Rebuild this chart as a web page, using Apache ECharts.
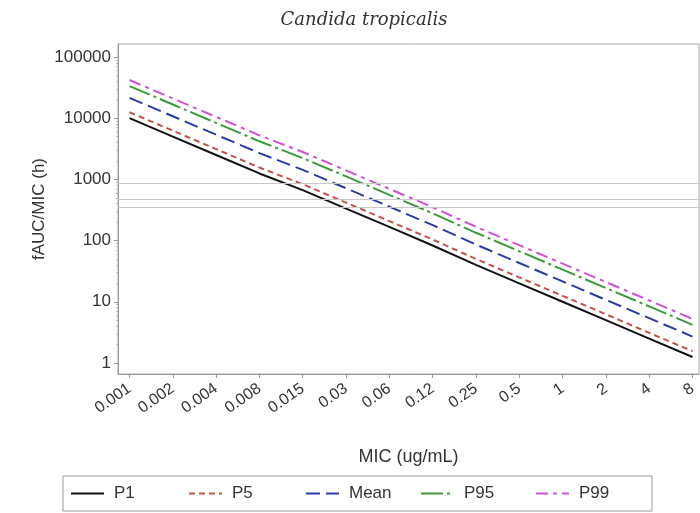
<!DOCTYPE html>
<html>
<head>
<meta charset="utf-8">
<script src="https://cdn.jsdelivr.net/npm/echarts@6/dist/echarts.min.js"></script>
<style>html,body{margin:0;padding:0;background:#fff}#c{width:700px;height:513px}</style>
</head>
<body>
<div id="c"></div>
<script>
var micLabels = ['0.001','0.002','0.004','0.008','0.015','0.03','0.06','0.12','0.25','0.5','1','2','4','8'];
var p1   = [10000, 5000, 2500, 1250, 667, 333, 167, 83, 40, 20, 10, 5, 2.5, 1.25];
var p5   = [12500, 6250, 3125, 1560, 833, 417, 208, 104, 50, 25, 12.5, 6.25, 3.1, 1.56];
var mean = [21500, 10750, 5375, 2690, 1430, 717, 358, 179, 86, 43, 21.5, 10.75, 5.4, 2.7];
var p95  = [33500, 16750, 8375, 4190, 2230, 1117, 558, 279, 134, 67, 33.5, 16.75, 8.4, 4.2];
var p99  = [42000, 21000, 10500, 5250, 2800, 1400, 700, 350, 168, 84, 42, 21, 10.5, 5.25];
var refLines = [880, 465, 350];
var yTicks = [1, 10, 100, 1000, 10000, 100000];
var seriesNames = ['P1', 'P5', 'Mean', 'P95', 'P99'];

function pts(arr){ return arr.map(function(v,i){ return [i, v]; }); }
var idx = micLabels.map(function(_, i){ return i; });
var yMinorTicks = [];
yTicks.forEach(function(t){ for (var k = 2; k <= 9; k++) { if (t * k < 163000) yMinorTicks.push(t * k); } });

var chart = echarts.init(document.getElementById('c'), null, {renderer:'canvas'});
var font = 'Liberation Sans';
function mk(name, data, color, type, extra){
  var s = {
    name: name, type: 'line', data: pts(data), symbol: 'none', silent: true,
    lineStyle: {color: color, width: 2, type: type},
    itemStyle: {color: color}, z: 3
  };
  if (extra) s.markLine = extra;
  return s;
}
var legendLefts = [70, 188, 305, 420, 535];
var legends = seriesNames.map(function(n, i){
  return {
    left: legendLefts[i], top: 485, padding: 0, itemWidth: 33, itemHeight: 10,
    itemStyle: {opacity: 0}, selectedMode: false,
    textStyle: {fontFamily: font, fontSize: 17, color: '#333', padding: [0, 0, 0, 5]},
    data: [n]
  };
});
var option = {
  animation: false,
  title: {
    text: 'Candida tropicalis', left: 359, top: 6, textAlign: 'center',
    textStyle: {fontFamily: 'DejaVu Serif', fontStyle: 'italic', fontWeight: 'normal', fontSize: 18, color: '#333'}
  },
  grid: {left: 118, top: 44, right: 1, bottom: 139, show: true, borderColor: '#aaa', borderWidth: 1},
  xAxis: {
    type: 'value', min: -0.266, max: 13.15,
    name: 'MIC (ug/mL)', nameLocation: 'middle', nameGap: 74,
    nameTextStyle: {fontFamily: font, fontSize: 18, color: '#333'},
    axisLine: {show: true, onZero: false, lineStyle: {color: '#999'}},
    axisTick: {show: true, length: 4, customValues: idx, lineStyle: {color: '#999'}},
    splitLine: {show: false},
    axisLabel: {customValues: idx, rotate: 35, fontFamily: font, fontSize: 16, color: '#333', margin: 13,
      formatter: function(v){ return micLabels[Math.round(v)]; }}
  },
  yAxis: [{
    type: 'log', min: 0.66, max: 163000, logBase: 10,
    name: 'fAUC/MIC (h)', nameLocation: 'middle', nameGap: 70, nameMoveOverlap: false,
    nameTextStyle: {fontFamily: font, fontSize: 17, color: '#333'},
    axisLine: {show: true, onZero: false, lineStyle: {color: '#999'}},
    axisTick: {show: true, length: 4, customValues: yTicks, lineStyle: {color: '#999'}},
    minorTick: {show: false},
    splitLine: {show: false},
    axisLabel: {customValues: yTicks, fontFamily: font, fontSize: 17, color: '#333', margin: 7,
      formatter: function(v){ return String(Math.round(v)); }}
  }, {
    type: 'log', min: 0.66, max: 163000, logBase: 10, position: 'left',
    axisLine: {show: false, onZero: false},
    axisTick: {show: true, length: 2, customValues: yMinorTicks, lineStyle: {color: '#bbb'}},
    axisLabel: {show: false}, splitLine: {show: false}
  }],
  legend: legends,
  graphic: [{type: 'rect', shape: {x: 63, y: 476, width: 589, height: 35}, style: {fill: 'none', stroke: '#999', lineWidth: 1}, silent: true}],
  series: [
    mk('P1', p1, '#111111', 'solid', {
      silent: true, symbol: 'none', label: {show: false},
      lineStyle: {color: '#c8c8c8', width: 1, type: 'solid'},
      data: refLines.map(function(v){ return {yAxis: v}; })
    }),
    mk('P5', p5, '#c8504a', [6, 4]),
    mk('Mean', mean, '#2a3aa8', [14, 6]),
    mk('P95', p95, '#3a9a3a', [22, 4, 3, 4]),
    mk('P99', p99, '#d050d8', [12, 5, 4, 5])
  ]
};
chart.setOption(option);
</script>
</body>
</html>
